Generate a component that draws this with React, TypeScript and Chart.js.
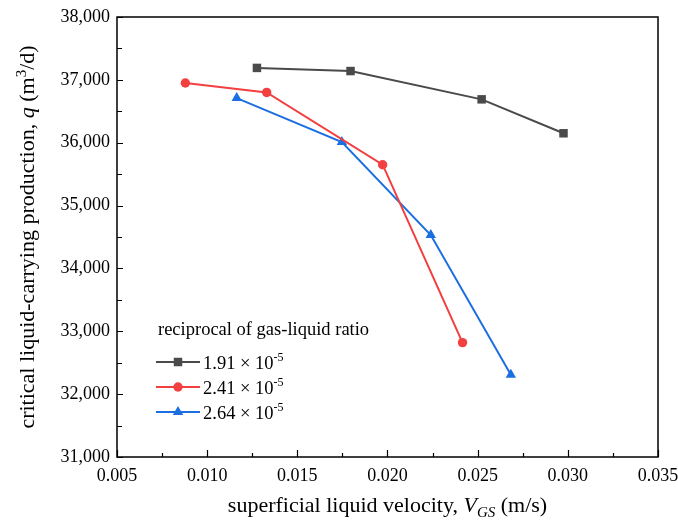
import React, { useEffect, useRef } from "react";
import { Chart, registerables } from "chart.js";

Chart.register(...registerables);

// Superficial liquid velocity (m/s) and critical liquid-carrying production (m³/d)
const velocity191 = [0.01276, 0.01795, 0.02522, 0.02976];
const production191 = [37190, 37140, 36690, 36150];
const velocity241 = [0.00879, 0.0133, 0.01973, 0.02416];
const production241 = [36950, 36800, 35650, 32820];
const velocity264 = [0.01164, 0.01747, 0.0224, 0.02684];
const production264 = [36710, 36010, 34530, 32310];

const seriesMantissas = ["1.91", "2.41", "2.64"];
const seriesExponent = "-5";
const legendTitle = "reciprocal of gas-liquid ratio";

const xTickValues = [0.005, 0.01, 0.015, 0.02, 0.025, 0.03, 0.035];
const yTickValues = [31000, 32000, 33000, 34000, 35000, 36000, 37000, 38000];

const colors = ["#4a4a4a", "#f23f3f", "#1b6fe0"];
const pointStyles = ["rect", "circle", "triangle"] as const;
const pointRadii = [6, 4.7, 6];

const SERIF = "'Liberation Serif', 'Times New Roman', serif";

const toPoints = (xs: number[], ys: number[]) => xs.map((x, i) => ({ x, y: ys[i] }));

type Run = { text: string; italic?: boolean; sub?: boolean; sup?: boolean };

function drawRuns(ctx: CanvasRenderingContext2D, runs: Run[], size: number, x: number, y: number, align: "left" | "center") {
  const fontFor = (r: Run) => {
    const s = r.sub || r.sup ? Math.round(size * 0.66) : size;
    return `${r.italic ? "italic " : ""}${s}px ${SERIF}`;
  };
  let total = 0;
  for (const r of runs) {
    ctx.font = fontFor(r);
    total += ctx.measureText(r.text).width;
  }
  let cx = align === "center" ? x - total / 2 : x;
  ctx.textBaseline = "alphabetic";
  ctx.textAlign = "left";
  for (const r of runs) {
    ctx.font = fontFor(r);
    const dy = r.sub ? size * 0.22 : r.sup ? -size * 0.38 : 0;
    ctx.fillText(r.text, cx, y + dy);
    cx += ctx.measureText(r.text).width;
  }
}

// legend marker with the same geometry Chart.js uses for its point styles
function drawMarker(ctx: CanvasRenderingContext2D, style: string, r: number, x: number, y: number) {
  ctx.beginPath();
  if (style === "rect") {
    const s = r * Math.SQRT1_2;
    ctx.rect(x - s, y - s, 2 * s, 2 * s);
  } else if (style === "triangle") {
    let a = 0;
    ctx.moveTo(x + Math.sin(a) * r, y - Math.cos(a) * r);
    a += (2 * Math.PI) / 3;
    ctx.lineTo(x + Math.sin(a) * r, y - Math.cos(a) * r);
    a += (2 * Math.PI) / 3;
    ctx.lineTo(x + Math.sin(a) * r, y - Math.cos(a) * r);
    ctx.closePath();
  } else {
    ctx.arc(x, y, r, 0, Math.PI * 2);
  }
  ctx.fill();
}

const decorPlugin = {
  id: "decor",
  afterDraw(chart: any) {
    const ctx: CanvasRenderingContext2D = chart.ctx;
    const { left, right, top, bottom } = chart.chartArea;
    const xs = chart.scales.x;
    const ys = chart.scales.y;
    ctx.save();
    ctx.strokeStyle = "#000";
    ctx.fillStyle = "#000";

    // inward tick marks
    ctx.lineWidth = 1.2;
    ctx.beginPath();
    xTickValues.forEach((v, i) => {
      const px = Math.round(xs.getPixelForValue(v)) + 0.5;
      ctx.moveTo(px, bottom);
      ctx.lineTo(px, bottom - 7);
      if (i < xTickValues.length - 1) {
        const mx = Math.round(xs.getPixelForValue((v + xTickValues[i + 1]) / 2)) + 0.5;
        ctx.moveTo(mx, bottom);
        ctx.lineTo(mx, bottom - 4);
      }
    });
    yTickValues.forEach((v, i) => {
      const py = Math.round(ys.getPixelForValue(v)) + 0.5;
      ctx.moveTo(left, py);
      ctx.lineTo(left + 6, py);
      if (i < yTickValues.length - 1) {
        const my = Math.round(ys.getPixelForValue((v + yTickValues[i + 1]) / 2)) + 0.5;
        ctx.moveTo(left, my);
        ctx.lineTo(left + 5, my);
      }
    });
    ctx.stroke();

    // frame
    ctx.lineWidth = 1.5;
    ctx.strokeRect(left, top, right - left, bottom - top);

    // axis titles
    drawRuns(
      ctx,
      [
        { text: "superficial liquid velocity, " },
        { text: "V", italic: true },
        { text: "GS", italic: true, sub: true },
        { text: " (m/s)" },
      ],
      22,
      (left + right) / 2,
      512,
      "center"
    );
    ctx.save();
    ctx.translate(34, (top + bottom) / 2);
    ctx.rotate(-Math.PI / 2);
    drawRuns(
      ctx,
      [
        { text: "critical liquid-carrying production, " },
        { text: "q", italic: true },
        { text: " (m" },
        { text: "3", sup: true },
        { text: "/d)" },
      ],
      22,
      0,
      0,
      "center"
    );
    ctx.restore();

    // legend
    ctx.font = `18.5px ${SERIF}`;
    ctx.textBaseline = "middle";
    ctx.textAlign = "left";
    ctx.fillText(legendTitle, 158, 330);
    const rowY = [362, 387, 412];
    chart.data.datasets.forEach((ds: any, i: number) => {
      const y = rowY[i];
      ctx.strokeStyle = ds.borderColor;
      ctx.lineWidth = 2;
      ctx.beginPath();
      ctx.moveTo(156, y);
      ctx.lineTo(200, y);
      ctx.stroke();
      ctx.fillStyle = ds.backgroundColor;
      drawMarker(ctx, ds.pointStyle, ds.pointRadius, 178, y);
      ctx.fillStyle = "#000";
      drawRuns(
        ctx,
        [{ text: `${seriesMantissas[i]} × 10` }, { text: seriesExponent, sup: true }],
        18.5,
        203,
        y + 6.5,
        "left"
      );
    });
    ctx.restore();
  },
};

export default function App() {
  const ref = useRef<HTMLCanvasElement>(null);

  useEffect(() => {
    const canvas = ref.current;
    if (!canvas) return;
    const series = [
      toPoints(velocity191, production191),
      toPoints(velocity241, production241),
      toPoints(velocity264, production264),
    ];
    const chart = new Chart(canvas, {
      type: "scatter",
      data: {
        datasets: series.map((data, i) => ({
          label: `${seriesMantissas[i]} × 10^${seriesExponent}`,
          data,
          showLine: true,
          borderColor: colors[i],
          backgroundColor: colors[i],
          borderWidth: 2,
          pointStyle: pointStyles[i],
          pointRadius: pointRadii[i],
          pointBorderWidth: 0,
          tension: 0,
        })),
      },
      options: {
        responsive: false,
        animation: false,
        devicePixelRatio: 1,
        layout: { padding: { top: 17, right: 20, left: 0, bottom: 0 } },
        plugins: {
          legend: { display: false },
          tooltip: { enabled: false },
        },
        scales: {
          x: {
            type: "linear",
            min: 0.005,
            max: 0.035,
            afterFit: (s: any) => {
              s.height = 64;
              s.paddingLeft = 0;
              s.paddingRight = 0;
            },
            afterBuildTicks: (s: any) => {
              s.ticks = xTickValues.map((value) => ({ value }));
            },
            grid: { display: false, drawTicks: false },
            border: { display: false },
            ticks: {
              padding: 8,
              color: "#000",
              font: { family: SERIF, size: 18 },
              callback: (v: any) => Number(v).toFixed(3),
              maxRotation: 0,
              autoSkip: false,
            },
          },
          y: {
            type: "linear",
            min: 31000,
            max: 38000,
            afterFit: (s: any) => {
              s.width = 117;
              s.paddingTop = 0;
              s.paddingBottom = 0;
            },
            afterBuildTicks: (s: any) => {
              s.ticks = yTickValues.map((value) => ({ value }));
            },
            grid: { display: false, drawTicks: false },
            border: { display: false },
            ticks: {
              padding: 7,
              color: "#000",
              font: { family: SERIF, size: 18 },
              callback: (v: any) => Number(v).toLocaleString("en-US"),
              autoSkip: false,
            },
          },
        },
      },
      plugins: [decorPlugin],
    });
    return () => chart.destroy();
  }, []);

  return (
    <div style={{ position: "absolute", left: 0, top: 0, width: 678, height: 521, background: "#fff" }}>
      <canvas ref={ref} width={678} height={521} />
    </div>
  );
}
